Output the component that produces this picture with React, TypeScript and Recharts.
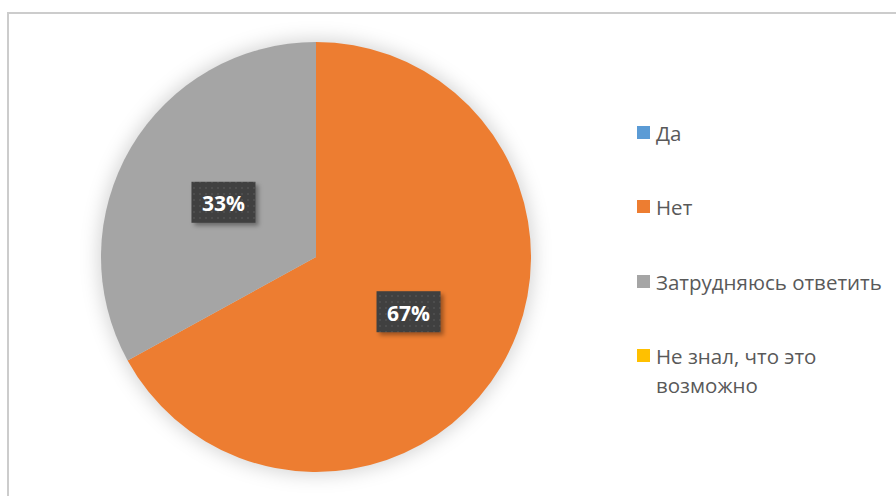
import React from "react";
import { PieChart, Pie, Cell, Sector, Legend } from "recharts";

const categories = ["Да", "Нет", "Затрудняюсь ответить", "Не знал, что это возможно"];
const values = [0, 67, 33, 0];
const colors = ["#5B9BD5", "#ED7D31", "#A5A5A5", "#FFC000"];
const legendLines = [["Да"], ["Нет"], ["Затрудняюсь ответить"], ["Не знал, что это", "возможно"]];

const data = categories.map((name, i) => ({ name, value: values[i] }));
const haloData = [{ name: "halo", value: 1 }];

const RADIAN = Math.PI / 180;

const renderLabel = (props: any) => {
  const { cx, cy, midAngle, outerRadius, percent, value } = props;
  if (!value) return null;
  const r = outerRadius * 0.5;
  const x = cx + r * Math.cos(-midAngle * RADIAN);
  const y = cy + r * Math.sin(-midAngle * RADIAN);
  const w = 64;
  const h = 41;
  return (
    <g>
      <rect x={x - w / 2 + 3} y={y - h / 2 + 3} width={w} height={h} fill="rgba(0,0,0,0.35)" filter="url(#boxShadow)" />
      <rect x={x - w / 2} y={y - h / 2} width={w} height={h} fill="url(#dots)" />
      <text
        x={x}
        y={y + 1}
        textAnchor="middle"
        dominantBaseline="central"
        fill="#ffffff"
        fontFamily="'Open Sans', sans-serif"
        fontWeight={700}
        fontSize={21}
      >
        {`${Math.round(percent * 100)}%`}
      </text>
    </g>
  );
};

const haloShape = (props: any) => (
  <g filter="url(#halo)">
    <Sector {...props} />
  </g>
);

const LegendContent = () => {
  const tops = [118, 192, 267, 341];
  return (
    <div style={{ position: "relative", width: 260, height: 300 }}>
      {legendLines.map((lines, i) => (
        <div key={i} style={{ position: "absolute", left: 0, top: tops[i] - 110 }}>
          {lines.map((ln, j) => (
            <div
              key={j}
              style={{
                display: "flex",
                alignItems: "center",
                height: 29,
                fontFamily: "'Open Sans', sans-serif",
                fontSize: 20.5,
                color: "#595959",
                whiteSpace: "nowrap",
              }}
            >
              <span
                style={{
                  display: "inline-block",
                  width: 13,
                  height: 13,
                  marginRight: 6,
                  background: j === 0 ? colors[i] : "transparent",
                }}
              />
              {ln}
            </div>
          ))}
        </div>
      ))}
    </div>
  );
};

export default function App() {
  return (
    <div style={{ position: "fixed", left: 0, top: 0, width: 896, height: 496, background: "#fff", overflow: "hidden" }}>
      <div
        style={{
          position: "absolute",
          left: 7,
          top: 12,
          width: 900,
          height: 500,
          borderTop: "2px solid #cccccc",
          borderLeft: "2px solid #cccccc",
        }}
      />
      <div style={{ position: "absolute", left: 0, top: 0 }}>
        <PieChart width={896} height={496}>
          <defs>
            <filter id="halo" x="-20%" y="-20%" width="140%" height="140%">
              <feGaussianBlur stdDeviation="9" />
            </filter>
            <filter id="boxShadow" x="-30%" y="-30%" width="160%" height="160%">
              <feGaussianBlur stdDeviation="2" />
            </filter>
            <pattern id="dots" width="6" height="6" patternUnits="userSpaceOnUse">
              <rect width="6" height="6" fill="#404040" />
              <rect x="1" y="1" width="2" height="2" fill="#4d4d4d" />
            </pattern>
          </defs>
          <Pie
            data={haloData}
            dataKey="value"
            cx={311}
            cy={252}
            outerRadius={218}
            startAngle={90}
            endAngle={-270}
            fill="rgba(0,0,0,0.16)"
            stroke="none"
            shape={haloShape}
            isAnimationActive={false}
            legendType="none"
          />
          <Pie
            data={data}
            dataKey="value"
            nameKey="name"
            cx={311}
            cy={252}
            outerRadius={215}
            startAngle={90}
            endAngle={-270}
            stroke="none"
            label={renderLabel}
            labelLine={false}
            isAnimationActive={false}
          >
            {data.map((d, i) => (
              <Cell key={d.name} fill={colors[i]} />
            ))}
          </Pie>
          <Legend
            layout="vertical"
            content={<LegendContent />}
            wrapperStyle={{ position: "absolute", left: 637, top: 110, width: 260 }}
          />
        </PieChart>
      </div>
    </div>
  );
}
